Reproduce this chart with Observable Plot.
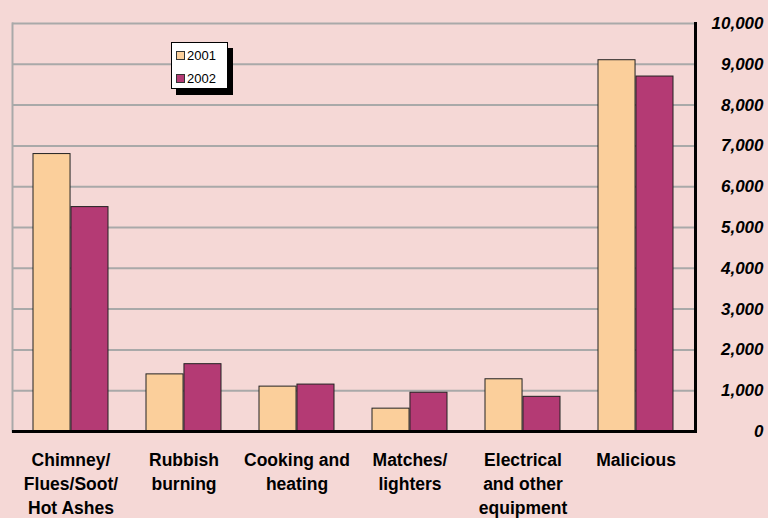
<!DOCTYPE html>
<html>
<head>
<meta charset="utf-8">
<script src="https://cdn.jsdelivr.net/npm/d3@7"></script>
<script src="https://cdn.jsdelivr.net/npm/@observablehq/plot@0.6"></script>
<style>
  html, body { margin: 0; padding: 0; background: #f5d8d6; }
  #wrap { position: relative; width: 768px; height: 518px; overflow: hidden; }
  #legend {
    position: absolute; left: 171px; top: 42px; width: 55px; height: 45px;
    background: #fff; border: 1px solid #000; box-shadow: 5px 6px 0 #000;
    font-family: "Liberation Sans", Arial, Helvetica, sans-serif; font-size: 13px; color: #000;
  }
  .item { position: absolute; left: 4px; display: flex; align-items: center; gap: 2px; line-height: 1; }
  .sw { width: 9px; height: 9px; border: 1px solid #333; box-sizing: border-box; }
</style>
</head>
<body>
<div id="wrap">
  <div id="chart"></div>
  <div id="legend"></div>
</div>
<script>
const causes = ["Chimney/\nFlues/Soot/\nHot Ashes", "Rubbish\nburning", "Cooking and\nheating", "Matches/\nlighters", "Electrical\nand other\nequipment", "Malicious"];
const years = ["2001", "2002"];
const values2001 = [6800, 1400, 1100, 560, 1280, 9100];
const values2002 = [5500, 1650, 1150, 950, 850, 8700];
const yTicks = [0, 1000, 2000, 3000, 4000, 5000, 6000, 7000, 8000, 9000, 10000];
const colors = ["#fbcf9b", "#b43a74"];

const data2001 = causes.map((c, i) => ({cause: c, year: years[0], value: values2001[i]}));
const data2002 = causes.map((c, i) => ({cause: c, year: years[1], value: values2002[i]}));

const W = 768, ML = 12, MR = 73;
const xPadInner = 0.333, xPadOuter = 0.1667;
const step = (W - ML - MR) / (causes.length - xPadInner + 2 * xPadOuter);
const half = step * (1 - xPadInner) / 2;

const chart = Plot.plot({
  width: W,
  height: 518,
  marginLeft: ML,
  marginRight: MR,
  marginTop: 23,
  marginBottom: 87,
  style: {background: "transparent", fontFamily: "'Liberation Sans', Arial, Helvetica, sans-serif", color: "#000"},
  x: {domain: causes, paddingInner: xPadInner, paddingOuter: xPadOuter, label: null},
  y: {domain: [0, 10000], label: null},
  color: {domain: years, range: colors},
  marks: [
    Plot.ruleY(yTicks.slice(1), {stroke: "#a9a9a9", strokeWidth: 2}),
    Plot.frame({anchor: "left", stroke: "#a9a9a9", strokeWidth: 2}),
    Plot.barY(data2001, {x: "cause", y: "value", fill: "year", stroke: "#222", strokeWidth: 1, insetRight: half}),
    Plot.barY(data2002, {x: "cause", y: "value", fill: "year", stroke: "#222", strokeWidth: 1, insetLeft: half}),
    Plot.frame({anchor: "right", stroke: "#000", strokeWidth: 3}),
    Plot.ruleY([0], {stroke: "#000", strokeWidth: 3}),
    Plot.axisY({anchor: "right", ticks: yTicks, tickFormat: d3.format(","), tickSize: 0, tickPadding: 3, textAnchor: "end", dx: 65, fontSize: 17, fontWeight: "bold", fontStyle: "italic", fill: "#000", label: null}),
    Plot.axisX({anchor: "bottom", tickSize: 0, tickPadding: 18, fontSize: 17.5, fontWeight: "bold", lineHeight: 1.36, fill: "#000", label: null})
  ]
});
document.getElementById("chart").appendChild(chart);

const legend = document.getElementById("legend");
years.forEach((y, i) => {
  const item = document.createElement("div");
  item.className = "item";
  item.style.top = (i === 0 ? 6 : 29) + "px";
  item.innerHTML = `<span class="sw" style="background:${colors[i]}"></span><span>${y}</span>`;
  legend.appendChild(item);
});
</script>
</body>
</html>
